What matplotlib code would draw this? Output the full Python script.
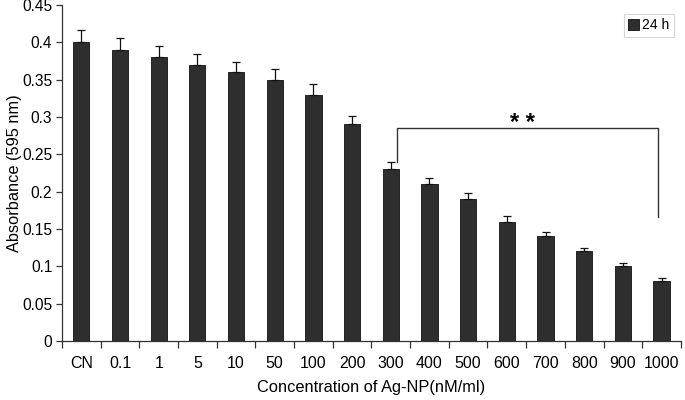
import matplotlib
matplotlib.use("Agg")
import matplotlib.pyplot as plt
from matplotlib.ticker import FixedLocator, NullFormatter

plt.rcParams['font.family'] = ['Liberation Sans', 'DejaVu Sans']

categories = ["CN", "0.1", "1", "5", "10", "50", "100", "200", "300", "400",
              "500", "600", "700", "800", "900", "1000"]
values = [0.40, 0.39, 0.38, 0.37, 0.36, 0.35, 0.33, 0.29, 0.23, 0.21,
          0.19, 0.16, 0.14, 0.12, 0.10, 0.08]
errors = [0.016, 0.016, 0.015, 0.014, 0.014, 0.014, 0.014, 0.011, 0.010, 0.008,
          0.008, 0.007, 0.006, 0.005, 0.004, 0.004]
y_ticks = [0, 0.05, 0.1, 0.15, 0.2, 0.25, 0.3, 0.35, 0.4, 0.45]
y_tick_labels = ["0", "0.05", "0.1", "0.15", "0.2", "0.25", "0.3", "0.35", "0.4", "0.45"]
series_label = "24 h"

fig = plt.figure(figsize=(6.85, 4.0), dpi=100)
ax = fig.add_axes([0.0905, 0.1475, 0.9035, 0.84])

x = list(range(len(categories)))
ax.bar(x, values, width=0.42, color="#2e2e2e", edgecolor="#111111", linewidth=0.6,
       label=series_label, zorder=2)
ax.errorbar(x, values, yerr=[[0] * len(errors), errors], fmt="none", ecolor="#111111",
            elinewidth=0.9, capsize=3.2, capthick=0.9, zorder=3)

ax.set_xlim(-0.5, len(categories) - 0.5)
ax.set_ylim(0, 0.45)
ax.set_yticks(y_ticks)
ax.set_yticklabels(y_tick_labels)
ax.set_xticks(x)
ax.set_xticklabels(categories)
ax.xaxis.set_minor_locator(FixedLocator([i - 0.5 for i in range(len(categories) + 1)]))
ax.xaxis.set_minor_formatter(NullFormatter())
ax.tick_params(axis="x", which="major", length=0, pad=11, labelsize=11.5)
ax.tick_params(axis="x", which="minor", length=5, width=0.9, direction="out", color="#333333")
ax.tick_params(axis="y", which="major", length=4, width=0.9, direction="out",
               color="#333333", labelsize=11.2, pad=3)

for s in ["top", "right"]:
    ax.spines[s].set_visible(False)
for s in ["left", "bottom"]:
    ax.spines[s].set_color("#333333")
    ax.spines[s].set_linewidth(0.9)

ax.set_ylabel("Absorbance (595 nm)", fontsize=11.8)
ax.yaxis.set_label_coords(-0.065, 0.5)
ax.set_xlabel("Concentration of Ag-NP(nM/ml)", fontsize=11.8, labelpad=6)

# significance bracket between 300 and 1000
bx1, bx2 = 8.15, 14.9
ax.plot([bx1, bx1, bx2, bx2], [0.24, 0.285, 0.285, 0.166], color="#333333", lw=1.0, zorder=4)
ax.text((bx1 + bx2) / 2 - 0.12, 0.2755, "* *", ha="center", va="bottom", fontsize=17,
        fontweight="bold")

leg = ax.legend(loc="upper right", bbox_to_anchor=(0.995, 0.985), frameon=True, fancybox=False,
                fontsize=10, handlelength=0.75, handleheight=0.75, handletextpad=0.25,
                borderpad=0.3, borderaxespad=0.3)
leg.get_frame().set_edgecolor("#cccccc")
leg.get_frame().set_linewidth(0.8)

fig.savefig("out.png", dpi=100)
